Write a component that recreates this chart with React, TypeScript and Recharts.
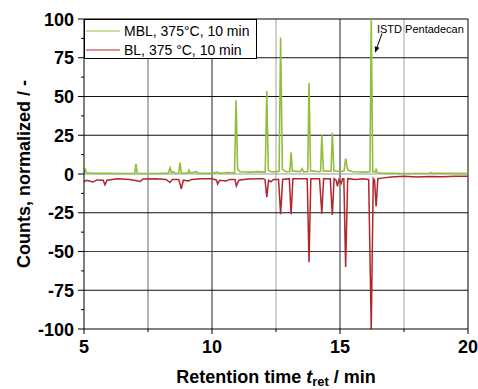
import React from 'react';
import { LineChart, Line, XAxis, YAxis, ReferenceLine } from 'recharts';

// retention time [min] and normalized counts
const mblTime = [
  5.0, 5.05, 5.1, 5.3, 5.6, 6.0, 6.5, 6.98, 7.03, 7.08, 7.5, 8.0, 8.3, 8.36, 8.42, 8.5, 8.56,
  8.7, 8.75, 8.8, 9.06, 9.1, 9.15, 9.4, 9.45, 10.0, 10.2, 10.3, 10.6, 10.88, 10.94, 11.0, 11.1,
  11.5, 11.8, 12.08, 12.14, 12.2, 12.3, 12.5, 12.62, 12.68, 12.75, 12.9, 13.04, 13.09, 13.14,
  13.45, 13.52, 13.58, 13.74, 13.79, 13.85, 14.2, 14.24, 14.29, 14.35, 14.65, 14.7, 14.76, 15.0,
  15.16, 15.22, 15.3, 15.5, 16.0, 16.17, 16.22, 16.28, 16.36, 16.41, 16.46, 16.7, 17.0, 17.5,
  18.5, 18.55, 18.6, 19.5, 20.0,
];
const mblCounts = [
  0.5, 3, 0.8, 0.5, 0.4, 0.4, 0.3, 0.4, 6.5, 0.4, 0.3, 0.4, 0.6, 4, 0.8, 1.5, 0.5,
  0.6, 7.3, 0.6, 0.6, 2.5, 0.6, 1.5, 0.5, 0.4, 1.2, 0.5, 1, 0.6, 47.5, 3, 1.5,
  1.2, 1.5, 1.2, 53.5, 2.5, 1.5, 1.5, 1.8, 88, 3, 1.5, 1.6, 14, 2,
  1.5, 3.5, 1.5, 1.5, 58.7, 2, 1.5, 1.8, 25, 2, 1.8, 26.6, 2, 1.5,
  2, 10, 2.5, 1.5, 1.2, 1.5, 100, 1.5, 1.2, 3, 0.8, 0.5, 0.4, 0.3,
  0.5, 1, 0.4, 0.4, 0.3,
];

const blTime = [
  5.0, 5.1, 5.35, 5.5, 5.75, 5.82, 5.9, 6.3, 6.8, 7.2, 7.3, 7.8, 8.2, 8.36, 8.45, 8.7, 8.8, 8.88,
  9.08, 9.2, 9.6, 10.0, 10.18, 10.22, 10.3, 10.55, 10.7, 10.9, 10.95, 11.05, 11.4, 11.8, 12.0,
  12.07, 12.14, 12.21, 12.3, 12.4, 12.6, 12.68, 12.76, 13.02, 13.09, 13.16, 13.5, 13.72, 13.79,
  13.86, 14.2, 14.29, 14.36, 14.62, 14.7, 14.77, 14.85, 14.9, 14.96, 15.05, 15.1, 15.15, 15.22,
  15.3, 15.6, 15.9, 16.12, 16.22, 16.3, 16.35, 16.41, 16.48, 16.7, 17.0, 17.5, 18.0, 18.5, 19.0,
  19.5, 20.0,
];
const blCounts = [
  -5, -4, -5.2, -3.8, -4, -7, -4, -3, -3.5, -4.8, -3.2, -3, -3.5, -5.5, -3.5, -3.5, -9.5, -4,
  -4.5, -3.5, -3, -3, -4, -6.5, -4, -4.5, -3.5, -3.5, -7.8, -4, -3.2, -3, -3,
  -3.5, -15, -4, -5, -3.5, -3.5, -26, -3.5, -3, -26, -3, -3, -3, -57,
  -3, -3, -25.6, -3, -3, -26.5, -3, -4, -8, -3.5, -6, -3, -3, -60,
  -3, -3.5, -3, -3.5, -100, -3, -4, -21, -3, -2.5, -2, -1.5, -2, -1.6, -1.8,
  -1.5, -1.5,
];

const seriesNames = ['MBL, 375°C, 10 min', 'BL, 375 °C, 10 min'];
const seriesColors = ['#8fbf3c', '#b0262b'];

const xTicks = [5, 7.5, 10, 12.5, 15, 17.5, 20];
const yTicks = [-100, -87.5, -75, -62.5, -50, -37.5, -25, -12.5, 0, 12.5, 25, 37.5, 50, 62.5, 75, 87.5, 100];
const vGrid = [
  { x: 7.5, color: '#8a8a8a' },
  { x: 10, color: '#555' },
  { x: 12.5, color: '#b8b8b8' },
  { x: 15, color: '#555' },
  { x: 17.5, color: '#b8b8b8' },
];
const hGrid = [-75, -50, -25, 25, 50, 75];

const font = '"Liberation Sans", Arial, sans-serif';

const mbl = mblTime.map((t, i) => ({ t, v: mblCounts[i] }));
const bl = blTime.map((t, i) => ({ t, v: blCounts[i] }));

const XTick = (props: any) => {
  const { x, y, payload } = props;
  const major = payload.value % 5 === 0;
  return (
    <g>
      <line x1={x} y1={y} x2={x} y2={y + (major ? 5 : 3)} stroke="#000" />
      {major && (
        <text x={x} y={y + 24} textAnchor="middle" fontSize={18} fontWeight="bold" fontFamily={font} fill="#000">
          {payload.value}
        </text>
      )}
    </g>
  );
};

const YTick = (props: any) => {
  const { x, y, payload } = props;
  const major = payload.value % 25 === 0;
  return (
    <g>
      <line x1={x - (major ? 6 : 3)} y1={y} x2={x} y2={y} stroke="#000" />
      {major && (
        <text x={x - 10} y={y + 6.5} textAnchor="end" fontSize={18} fontWeight="bold" fontFamily={font} fill="#000">
          {payload.value}
        </text>
      )}
    </g>
  );
};

const XLabel = (props: any) => {
  const { viewBox } = props;
  const cx = viewBox.x + viewBox.width / 2;
  return (
    <text x={cx} y={viewBox.y + 54} textAnchor="middle" fontSize={18} fontWeight="bold" fontFamily={font} fill="#000">
      Retention time <tspan fontStyle="italic">t</tspan>
      <tspan fontSize={13} dy={3}>ret</tspan>
      <tspan dy={-3}> / min</tspan>
    </text>
  );
};

const YLabel = (props: any) => {
  const { viewBox } = props;
  const cy = viewBox.y + viewBox.height / 2;
  return (
    <text x={30} y={cy} transform={`rotate(-90 30 ${cy})`} textAnchor="middle" fontSize={18} fontWeight="bold" fontFamily={font} fill="#000">
      Counts, normalized / -
    </text>
  );
};

const IstdArrow = (props: any) => {
  const { x1, y1, x2, y2 } = props;
  const ang = Math.atan2(y2 - y1, x2 - x1);
  const len = 6;
  const w = 2.5;
  const bx = x2 - len * Math.cos(ang);
  const by = y2 - len * Math.sin(ang);
  const px = -Math.sin(ang) * w;
  const py = Math.cos(ang) * w;
  return (
    <g>
      <line x1={x1} y1={y1} x2={bx} y2={by} stroke="#000" strokeWidth={1} />
      <polygon points={`${x2},${y2} ${bx + px},${by + py} ${bx - px},${by - py}`} fill="#000" />
      <text x={x1 - 5} y={y1 - 1} fontSize={11} fontFamily={font} fill="#000">ISTD Pentadecan</text>
    </g>
  );
};

export default function App() {
  return (
    <div style={{ position: 'absolute', left: 0, top: 0, width: 478, height: 389, background: '#fff' }}>
      <LineChart width={478} height={389} margin={{ top: 19, right: 10, bottom: 0, left: 0 }}>
        <XAxis
          type="number"
          dataKey="t"
          domain={[5, 20]}
          ticks={xTicks}
          interval={0}
          allowDataOverflow
          height={60}
          tickSize={0}
          tickMargin={0}
          tickLine={false}
          axisLine={{ stroke: '#000' }}
          tick={<XTick />}
          label={<XLabel />}
        />
        <YAxis
          type="number"
          dataKey="v"
          domain={[-100, 100]}
          ticks={yTicks}
          interval={0}
          allowDataOverflow
          width={84}
          tickSize={0}
          tickMargin={0}
          tickLine={false}
          axisLine={{ stroke: '#000' }}
          tick={<YTick />}
          label={<YLabel />}
        />
        {vGrid.map(g => (
          <ReferenceLine key={`vg-${g.x}`} x={g.x} stroke={g.color} strokeWidth={1.3} />
        ))}
        {hGrid.map(v => (
          <ReferenceLine key={`hg-${v}`} y={v} stroke={v === -50 ? '#444' : '#111'} strokeWidth={1.2} />
        ))}
        <ReferenceLine y={0} stroke="#999" />
        <ReferenceLine y={100} stroke="#000" />
        <ReferenceLine x={20} stroke="#000" />
        <Line data={bl} dataKey="v" type="linear" stroke={seriesColors[1]} strokeWidth={1.5} dot={false} isAnimationActive={false} />
        <Line data={mbl} dataKey="v" type="linear" stroke={seriesColors[0]} strokeWidth={1.6} dot={false} isAnimationActive={false} />
        <ReferenceLine segment={[{ x: 16.64, y: 90.6 }, { x: 16.37, y: 78.3 }]} shape={<IstdArrow />} />
      </LineChart>
      <div
        style={{
          position: 'absolute', left: 84, top: 19, width: 173, height: 40, boxSizing: 'border-box',
          border: '1px solid #000', background: '#fff', fontFamily: font, fontSize: 14, color: '#000',
        }}
      >
        {seriesNames.map((name, i) => (
          <div key={name} style={{ position: 'absolute', left: 0, top: i === 0 ? 2 : 21, height: 17, display: 'flex', alignItems: 'center', whiteSpace: 'nowrap' }}>
            <svg width={38} height={4} style={{ marginLeft: 1 }}>
              <line x1={0} y1={2} x2={34} y2={2} stroke={seriesColors[i]} strokeWidth={1.2} />
            </svg>
            <span>{name}</span>
          </div>
        ))}
      </div>
    </div>
  );
}
